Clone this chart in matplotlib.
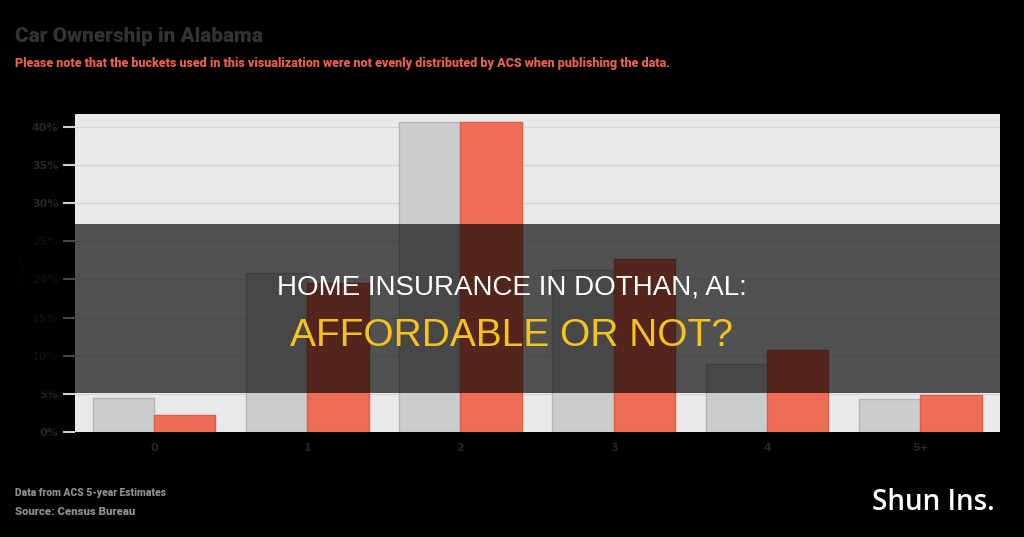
import matplotlib
matplotlib.use("Agg")
import matplotlib.pyplot as plt
from matplotlib.patches import Rectangle
import numpy as np

categories = ["0", "1", "2", "3", "4", "5+"]
series_gray = [4.4, 20.8, 40.7, 21.3, 8.9, 4.3]
series_red = [2.2, 19.5, 40.6, 22.7, 10.7, 4.8]
y_ticks = [0, 5, 10, 15, 20, 25, 30, 35, 40]
y_tick_labels = ["0%", "5%", "10%", "15%", "20%", "25%", "30%", "35%", "40%"]

title = "Car Ownership in Alabama"
subtitle = ("Please note that the buckets used in this visualization were not evenly "
            "distributed by ACS when publishing the data.")
footer1 = "Data from ACS 5-year Estimates"
footer2 = "Source: Census Bureau"
banner1 = "HOME INSURANCE IN DOTHAN, AL:"
banner2 = "AFFORDABLE OR NOT?"
brand = "Shun Ins."

W, H = 1024, 537
fig = plt.figure(figsize=(W / 100, H / 100), dpi=100, facecolor="black")
renderer = fig.canvas.get_renderer()

ax = fig.add_axes([75 / W, 1 - 432 / H, 925 / W, 318 / H])
ax.set_facecolor("#e9e9e9")
x = np.arange(len(categories))
bw = 0.4
ax.bar(x - bw / 2, series_gray, bw, color="#cbccce", edgecolor="#b4b5b7", linewidth=1, zorder=3)
ax.bar(x + bw / 2, series_red, bw, color="#ef6c55", edgecolor="#d9604b", linewidth=1, zorder=3)
ax.set_xlim(-0.515, 5.52)
ax.set_ylim(0, 41.7)
ax.set_yticks(y_ticks)
ax.set_yticklabels(y_tick_labels, color="#262626", fontsize=8, fontweight="bold")
ax.set_xticks(x)
ax.set_xticklabels(categories, color="#262626", fontsize=8, fontweight="bold")
ax.yaxis.grid(True, color="#d6d6d6", linewidth=1, zorder=0)
ax.set_axisbelow(True)
ax.tick_params(axis="y", length=9, width=1.5, color="#d0d0d0", pad=3)
ax.tick_params(axis="x", length=0, pad=8)
for s in ax.spines.values():
    s.set_visible(False)
fig.text(22 / W, 1 - 270 / H, "Share", color="#161616", fontsize=8, rotation=90,
         va="center", ha="center")

narrow = ["Roboto", "DejaVu Sans"]


def fit_text(xpx, ypx, s, target_w, size, **kw):
    t = fig.text(xpx / W, 1 - ypx / H, s, fontsize=size, **kw)
    w = t.get_window_extent(renderer=renderer).width
    t.set_fontsize(size * target_w / w)
    return t


fit_text(15, 36, title, 248, 18, color="#333333", fontweight="heavy", family=narrow,
         fontstretch="condensed", va="center", ha="left")
fit_text(15, 64, subtitle, 658, 9, color="#e8604c", fontweight="heavy", family=narrow,
         fontstretch="condensed", va="center", ha="left")
fit_text(15, 493, footer1, 150, 8, color="#8f8f8f", fontweight="heavy", family=narrow,
         fontstretch="condensed", va="center", ha="left")
fit_text(15, 512, footer2, 121, 8, color="#8f8f8f", fontweight="heavy", family=narrow,
         fontstretch="condensed", va="center", ha="left")

# banner overlay
fig.patches.append(Rectangle((0, 1 - 393 / H), 1, (393 - 224) / H, transform=fig.transFigure,
                             facecolor="black", alpha=0.65, zorder=10, edgecolor="none"))
fig.text(0.5, 1 - 287 / H, banner1, color="white", fontsize=20, family=["Liberation Sans", "DejaVu Sans"],
         va="center", ha="center", zorder=11)
fig.text(0.5, 1 - 336 / H, banner2, color="#f7c21b", fontsize=28, family=["Liberation Sans", "DejaVu Sans"],
         va="center", ha="center", zorder=11)

fig.text(995 / W, 1 - 503 / H, brand, color="white", fontsize=20, fontweight="semibold",
         family=["Open Sans", "DejaVu Sans"], va="center", ha="right", zorder=11)

fig.savefig("out.png", dpi=100, facecolor="black")
